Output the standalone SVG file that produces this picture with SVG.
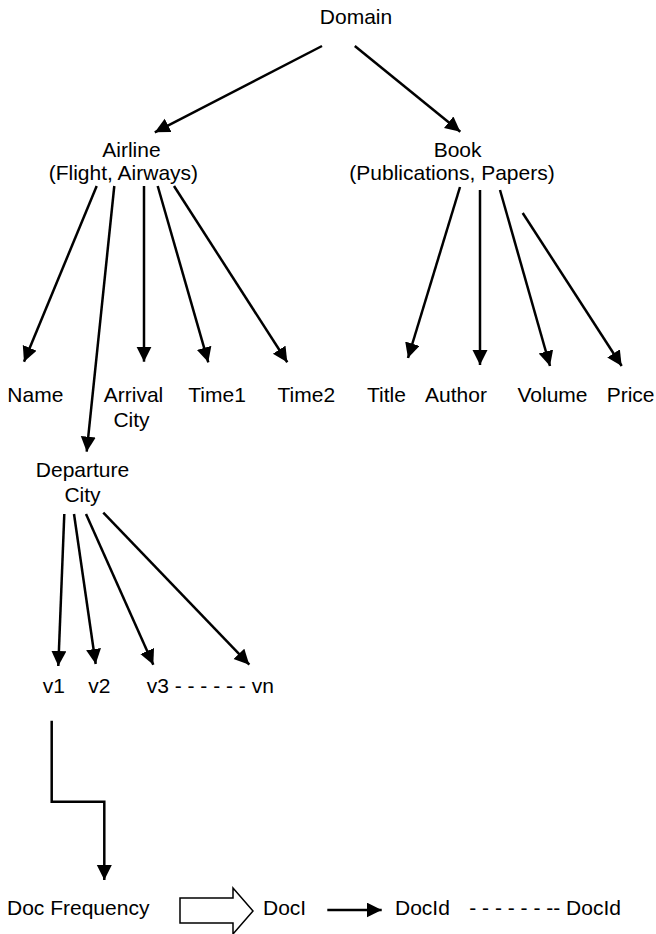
<svg xmlns="http://www.w3.org/2000/svg" width="656" height="934" viewBox="0 0 656 934">
  <style>
    text { font-family: "Liberation Sans", Arial, sans-serif; font-size: 21px; fill: #000; }
    .c { text-anchor: middle; }
    .edge { stroke: #000; stroke-width: 2.5; fill: none; marker-end: url(#ah); }
    .elbow { stroke: #000; stroke-width: 2.5; fill: none; marker-end: url(#ah); }
    .block { stroke: #000; stroke-width: 1.5; fill: #fff; }
  </style>
  <defs>
    <marker id="ah" markerUnits="userSpaceOnUse" markerWidth="16" markerHeight="16" refX="15" refY="7.5" orient="auto">
      <path d="M0,0 L15,7.5 L0,15 z" fill="#000"/>
    </marker>
  </defs>
  <rect width="656" height="934" fill="#fff"/>

  <g id="connectors">
    <line class="edge" x1="322" y1="46" x2="154.8" y2="132.3"/>
    <line class="edge" x1="354.8" y1="46" x2="460.3" y2="131.7"/>
    <line class="edge" x1="96.7" y1="186" x2="24" y2="361.7"/>
    <line class="edge" x1="114.3" y1="186" x2="86.7" y2="451.7"/>
    <line class="edge" x1="144" y1="186" x2="144" y2="361.7"/>
    <line class="edge" x1="157.7" y1="186" x2="208.3" y2="362.3"/>
    <line class="edge" x1="174" y1="186" x2="287.3" y2="362.3"/>
    <line class="edge" x1="460" y1="187" x2="408" y2="358"/>
    <line class="edge" x1="480" y1="190" x2="480" y2="365"/>
    <line class="edge" x1="500" y1="190" x2="550" y2="366"/>
    <line class="edge" x1="522.7" y1="213" x2="621.7" y2="366"/>
    <line class="edge" x1="64.3" y1="514" x2="58.3" y2="666"/>
    <line class="edge" x1="74" y1="514" x2="95.7" y2="664"/>
    <line class="edge" x1="86" y1="514" x2="153.3" y2="664.7"/>
    <line class="edge" x1="103.3" y1="512.7" x2="249.3" y2="664.7"/>
    <polyline class="elbow" points="51.7,720.7 51.7,801.7 104.3,801.7 104.3,880"/>
    <polygon class="block" points="180,898 233,898 233,888 253,911 233,934 233,923 180,923"/>
    <line class="edge" x1="327.3" y1="910" x2="381.7" y2="910"/>
  </g>

  <g id="domain"><text class="c" x="356" y="24">Domain</text></g>
  <g id="airline">
    <text class="c" x="131.4" y="157">Airline</text>
    <text class="c" x="123.4" y="180">(Flight, Airways)</text>
  </g>
  <g id="book">
    <text class="c" x="457.6" y="157">Book</text>
    <text class="c" x="452" y="180">(Publications, Papers)</text>
  </g>
  <g id="name"><text x="7.3" y="402">Name</text></g>
  <g id="arrival-city">
    <text class="c" x="133.5" y="402">Arrival</text>
    <text class="c" x="131.5" y="427">City</text>
  </g>
  <g id="time1"><text x="188.3" y="402">Time1</text></g>
  <g id="time2"><text x="277.5" y="402">Time2</text></g>
  <g id="title"><text x="367" y="402">Title</text></g>
  <g id="author"><text x="425" y="402">Author</text></g>
  <g id="volume"><text x="517.5" y="402">Volume</text></g>
  <g id="price"><text x="606.7" y="402">Price</text></g>
  <g id="departure-city">
    <text class="c" x="82.5" y="477">Departure</text>
    <text class="c" x="82.5" y="502">City</text>
  </g>
  <g id="v1"><text x="42.7" y="693">v1</text></g>
  <g id="v2"><text x="88.3" y="693">v2</text></g>
  <g id="v3-vn"><text x="146.7" y="693">v3 - - - - - - vn</text></g>
  <g id="doc-frequency"><text x="7" y="915">Doc Frequency</text></g>
  <g id="doci"><text x="263" y="915">DocI</text></g>
  <g id="docid"><text x="395" y="915">DocId</text></g>
  <g id="docid-last"><text x="469.3" y="915">- - - - - - -- DocId</text></g>
</svg>
